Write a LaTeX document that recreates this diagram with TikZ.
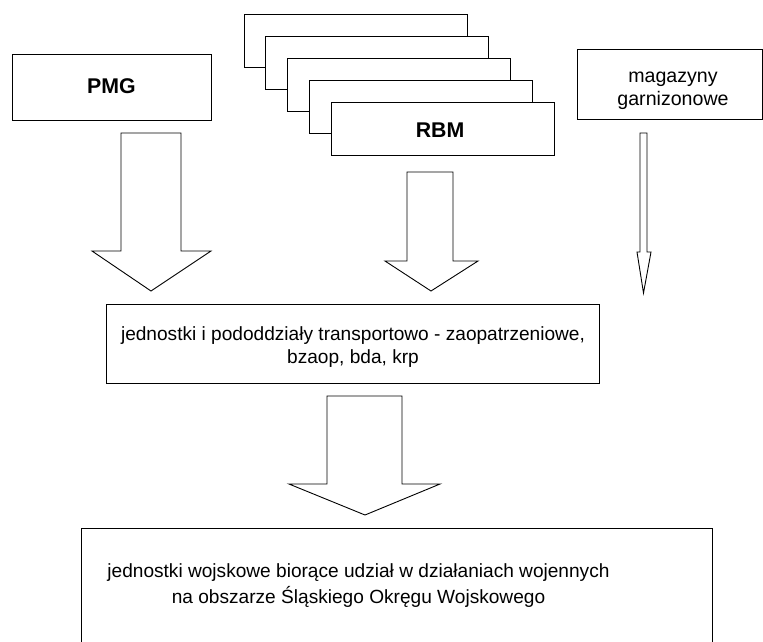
\documentclass[tikz,border=0pt]{standalone}
\usepackage{fontspec}
\setmainfont{Liberation Sans}
\begin{document}
\begin{tikzpicture}[x=1pt,y=-1pt,
  box/.style={draw,fill=white,line width=0.9pt,inner sep=0pt,align=center},
  blockarrow/.style={draw,fill=white,line width=0.9pt,line join=miter},
  txt/.style={font=\fontsize{19.1}{23.3}\selectfont},
  bold/.style={font=\fontsize{21.3}{23}\selectfont\bfseries}]
\useasboundingbox (0,0) rectangle (763,641);
\clip (0,0) rectangle (763,641);
% PMG
\node[box,minimum width=199pt,minimum height=66pt] (pmg) at (111.5,87) {};
\node[bold] (pmgt) at (111.5,86) {PMG};
% stacked RBM
\foreach \i in {0,...,3}{
  \node[box,minimum width=223pt,minimum height=53pt] (s\i) at (355.5+21.75*\i,40.5+22*\i) {};
}
\node[box,minimum width=223pt,minimum height=53pt] (rbm) at (442.5,128.5) {};
\node[bold] (rbmt) at (440,130) {RBM};
% magazyny
\node[box,minimum width=185.5pt,minimum height=70pt] (mag) at (670,84) {};
\node[txt,align=center,font=\fontsize{19.6}{23.3}\selectfont] (magt) at (673,90.5) {magazyny\\garnizonowe};
% middle
\node[box,minimum width=493pt,minimum height=79pt] (mid) at (352.5,343.5) {};
\node[txt,align=center] (midt) at (353,347) {jednostki i pododdziały transportowo - zaopatrzeniowe,\\bzaop, bda, krp};
% bottom
\node[box,minimum width=631pt,minimum height=200pt] (bot) at (396.5,628) {};
\node[txt,align=center,font=\fontsize{19.1}{26}\selectfont] (bott) at (358.5,585.5) {jednostki wojskowe biorące udział w działaniach wojennych\\na obszarze Śląskiego Okręgu Wojskowego};
% arrows
\draw[blockarrow] (121,133) -- (181,133) -- (181,251) -- (211,251) -- (151,291) -- (92,251) -- (121,251) -- cycle;
\draw[blockarrow] (407,172) -- (453,172) -- (453,261) -- (478,261) -- (431,291) -- (385,261) -- (407,261) -- cycle;
\draw[blockarrow] (640,133) -- (647,133) -- (647,252) -- (651,252) -- (643.5,293) -- (637,252) -- (640,252) -- cycle;
\draw[blockarrow] (327,396) -- (402,396) -- (402,484) -- (440,484) -- (365,515) -- (289,484) -- (327,484) -- cycle;
\end{tikzpicture}
\end{document}
